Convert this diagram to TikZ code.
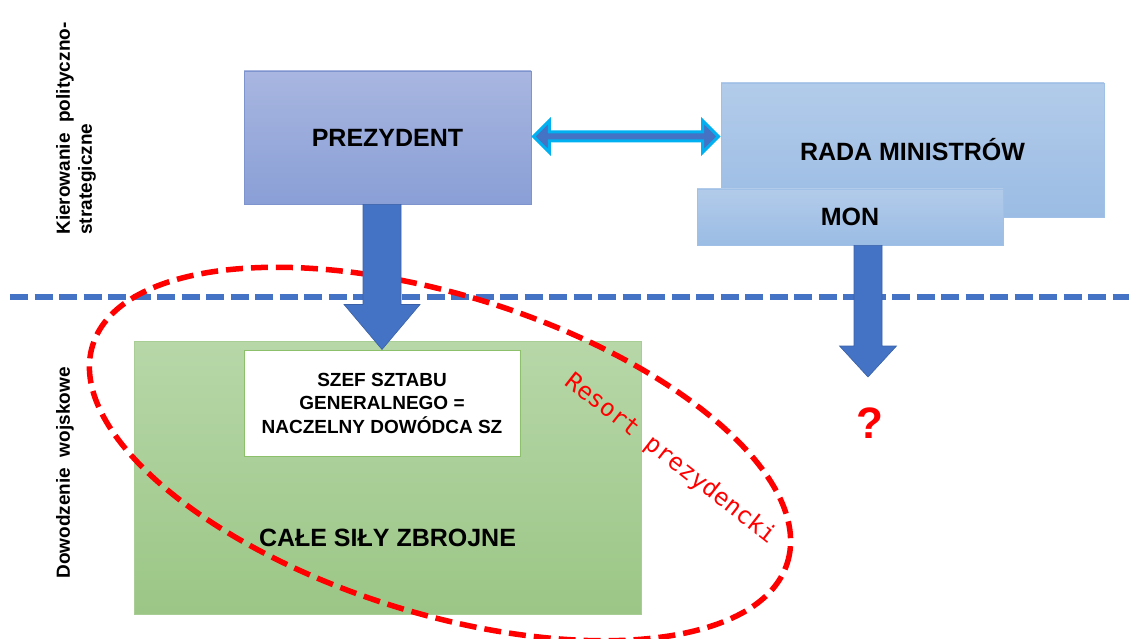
\documentclass[tikz,border=0pt]{standalone}
\usepackage{fontspec}
\setmainfont{Liberation Sans}
\newfontfamily\monofont{DejaVu Sans Mono}
\usetikzlibrary{calc,shapes.geometric}
\definecolor{prezTop}{RGB}{168,182,224}
\definecolor{prezBot}{RGB}{138,159,214}
\definecolor{prezEdge}{RGB}{125,148,206}
\definecolor{radaTop}{RGB}{178,203,234}
\definecolor{radaBot}{RGB}{155,188,228}
\definecolor{radaEdge}{RGB}{160,192,230}
\definecolor{greenTop}{RGB}{183,215,168}
\definecolor{greenBot}{RGB}{155,198,134}
\definecolor{greenEdge}{RGB}{168,206,150}
\definecolor{greenLine}{RGB}{140,192,106}
\definecolor{arrowblue}{RGB}{68,114,196}
\definecolor{arrowcyan}{RGB}{0,176,240}
\definecolor{resortred}{RGB}{255,0,0}

\tikzset{
  box/.style={draw=#1Edge,top color=#1Top,bottom color=#1Bot,line width=0.8pt,inner sep=0pt,
    font=\bfseries\fontsize{25}{30}\selectfont},
  bigtext/.style={font=\bfseries\fontsize{25}{30}\selectfont},
  sidetext/.style={rotate=90,align=left,font=\bfseries\fontsize{19}{22}\selectfont},
  blockfill/.style={fill=arrowblue,draw=arrowblue!85!black,line width=0.6pt},
  divline/.style={draw=arrowblue,line width=6pt,dash pattern=on 18pt off 6.5pt},
  resort/.style={ellipse,draw=resortred,line width=5.5pt,dash pattern=on 17pt off 8pt,inner sep=0pt}
}

% block arrow: start, tip, half shaft, half head, head length
\newcommand{\blockarrow}[5]{%
  \path[blockfill] ($(#1)+(-#3,0)$) -- ($(#2)+(-#3,-#5)$) -- ($(#2)+(-#4,-#5)$) -- (#2)
    -- ($(#2)+(#4,-#5)$) -- ($(#2)+(#3,-#5)$) -- ($(#1)+(#3,0)$) -- cycle;}

\begin{document}
\begin{tikzpicture}[x=1pt,y=-1pt]
  \useasboundingbox (0,0) rectangle (1129,639);
  \draw[divline] (10,297) -- (1129,297);

  % upper level
  \node[box=prez,minimum width=287pt,minimum height=133pt] (prez) at (387.5,137.5) {PREZYDENT};
  \node[box=rada,minimum width=383pt,minimum height=134pt] (rada) at (912.5,150) {RADA MINISTRÓW};
  \node[box=rada,minimum width=306pt,minimum height=56pt] (mon) at (850,217) {MON};

  % lower level
  \node[box=green,minimum width=507pt,minimum height=273pt] (sily) at (387.5,477.5) {};
  \node[draw=greenLine,fill=white,line width=1pt,minimum width=276pt,minimum height=106pt,
    align=center,font=\bfseries\fontsize{19}{23.5}\selectfont] (szef) at (382,403)
    {SZEF SZTABU\\GENERALNEGO =\\NACZELNY DOWÓDCA SZ};
  \node[bigtext] (silytxt) at ($(sily.center)+(0,60)$) {CAŁE SIŁY ZBROJNE};

  \node[resort,minimum width=728pt,minimum height=318pt,rotate=-17.4] (resort) at (440,454) {};
  \node[text=resortred,font=\monofont\fontsize{24}{24}\selectfont,rotate=-38] (resorttxt) at (670,459) {Resort prezydencki};

  % arrows
  \blockarrow{szef.north |- prez.south}{szef.north}{19}{38}{45}
  \coordinate (monend) at (868,377);
  \blockarrow{monend |- mon.south}{monend}{14}{28.5}{31}

  \coordinate (dl) at ($(prez.east)+(2,-1)$);
  \coordinate (dr) at ($(rada.west |- prez.east)+(-2,-1)$);
  \draw[fill=arrowblue,draw=arrowcyan,line width=3pt] (dl) -- ($(dl)+(16,-16)$) -- ($(dl)+(16,-4.5)$)
    -- ($(dr)+(-16,-4.5)$) -- ($(dr)+(-16,-16)$) -- (dr) -- ($(dr)+(-16,16)$) -- ($(dr)+(-16,4.5)$)
    -- ($(dl)+(16,4.5)$) -- ($(dl)+(16,16)$) -- cycle;

  \node[text=resortred,font=\bfseries\fontsize{44}{44}\selectfont] (pyt) at (870,423) {?};

  % side labels
  \node[sidetext] (kier) at (76,128.5) {Kierowanie\ \ polityczno-\\strategiczne};
  \node[sidetext] (dow) at (65,473) {Dowodzenie\ \ wojskowe};
\end{tikzpicture}
\end{document}
